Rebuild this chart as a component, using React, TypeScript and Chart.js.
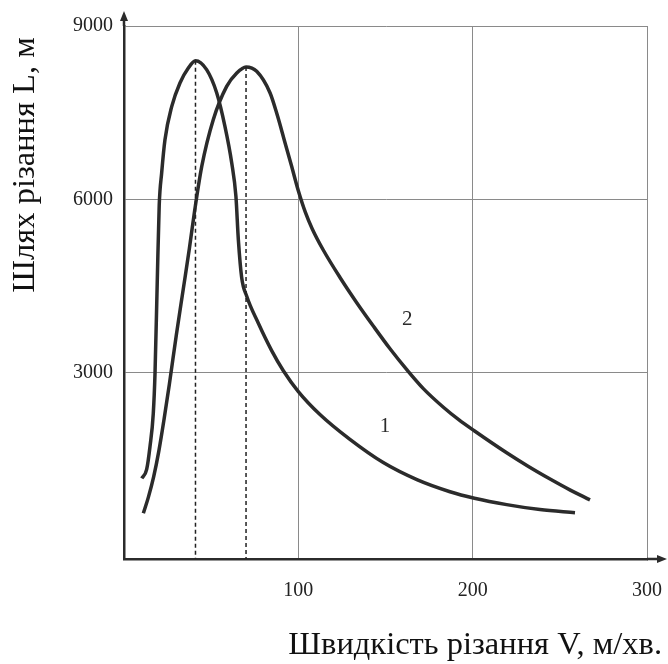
import React, { useEffect, useRef } from "react";
import { Chart, registerables } from "chart.js";

Chart.register(...registerables);

// Curve 1
const curve1X = [10.2, 13, 14.9, 16.8, 17.8, 19.1, 20.2, 21.6, 23.5, 27.4, 32.1, 36.9, 41, 47.4, 53.2, 57.9, 61.8, 64.2, 65.6, 67.5, 70.4, 77, 84.7, 91.4, 100, 112.4, 129.6, 148.7, 168, 187, 201, 219.5, 238.6, 258.7];
const curve1Y = [1174, 1330, 1722, 2300, 3000, 4610, 5900, 6457, 7033, 7610, 8015, 8274, 8400, 8245, 7841, 7264, 6630, 6052, 5300, 4650, 4324, 3862, 3385, 3037, 2676, 2279, 1849, 1448, 1153, 944, 832, 721, 635, 579];
// Curve 2
const curve2X = [11.1, 14, 17, 20, 23, 26, 30, 34, 37.5, 40.5, 44.6, 51.2, 58.9, 64.7, 70, 76.1, 83.8, 88, 92, 96, 100, 104, 108, 114.3, 123.9, 133.5, 143, 152.6, 162.2, 171.7, 183.2, 192, 200.9, 219.5, 232, 244.4, 256, 267.3];
const curve2Y = [570, 850, 1200, 1650, 2200, 2800, 3650, 4450, 5150, 5800, 6571, 7380, 7956, 8188, 8292, 8216, 7841, 7450, 7020, 6590, 6150, 5780, 5490, 5125, 4650, 4214, 3810, 3416, 3055, 2727, 2405, 2190, 1998, 1617, 1380, 1163, 972, 802];

// Peaks (dashed verticals)
const peakX = [41, 70];
const peakY = [8400, 8292];

const xTicks = [100, 200, 300];
const yTicks = [3000, 6000, 9000];
const xMin = 0;
const xMax = 300;
const yMin = -220;
const yMax = 9000;

const curveLabels = ["1", "2"];
const labelX = [149.7, 162.5];
const labelY = [2070, 3929];

const xTitle = "Швидкість різання V, м/хв.";
const yTitle = "Шлях різання L, м";

const FONT = '"Liberation Serif", "Times New Roman", serif';
const INK = "#2b2b2b";

const toPts = (xs: number[], ys: number[]) => xs.map((x, i) => ({ x, y: ys[i] }));

const annotPlugin = {
  id: "annot",
  afterDraw(chart: any) {
    const ctx = chart.ctx;
    const { left, top, right, bottom } = chart.chartArea;
    const xs = chart.scales.x;
    const ys = chart.scales.y;
    ctx.save();
    // axis extensions + arrows
    ctx.strokeStyle = INK;
    ctx.fillStyle = INK;
    ctx.lineWidth = 2.5;
    ctx.beginPath();
    ctx.moveTo(left, top);
    ctx.lineTo(left, top - 8);
    ctx.moveTo(right, bottom);
    ctx.lineTo(right + 12, bottom);
    ctx.stroke();
    ctx.beginPath();
    ctx.moveTo(left, top - 15);
    ctx.lineTo(left - 4, top - 5);
    ctx.lineTo(left + 4, top - 5);
    ctx.closePath();
    ctx.fill();
    ctx.beginPath();
    ctx.moveTo(right + 20, bottom);
    ctx.lineTo(right + 10, bottom - 4);
    ctx.lineTo(right + 10, bottom + 4);
    ctx.closePath();
    ctx.fill();

    // curve labels
    ctx.font = `21px ${FONT}`;
    ctx.textAlign = "center";
    ctx.textBaseline = "middle";
    curveLabels.forEach((t, i) => {
      ctx.fillText(t, xs.getPixelForValue(labelX[i]), ys.getPixelForValue(labelY[i]));
    });

    // axis titles
    ctx.fillStyle = "#111";
    ctx.font = `32.5px ${FONT}`;
    ctx.textAlign = "right";
    ctx.textBaseline = "middle";
    ctx.fillText(xTitle, right + 15, bottom + 86);

    ctx.translate(left - 99, top + 139);
    ctx.rotate(-Math.PI / 2);
    ctx.textAlign = "center";
    ctx.textBaseline = "middle";
    ctx.fillText(yTitle, 0, 0);
    ctx.restore();
  },
};

export default function App() {
  const ref = useRef<HTMLCanvasElement | null>(null);

  useEffect(() => {
    if (!ref.current) return;
    const dashed = peakX.map((px, i) => ({
      data: [
        { x: px, y: peakY[i] },
        { x: px, y: yMin },
      ],
      borderColor: "#222",
      borderWidth: 1.5,
      borderDash: [4, 3],
      pointRadius: 0,
      tension: 0,
    }));
    const chart = new Chart(ref.current, {
      type: "line",
      data: {
        datasets: [
          ...dashed,
          {
            data: toPts(curve1X, curve1Y),
            borderColor: INK,
            borderWidth: 3.5,
            pointRadius: 0,
            cubicInterpolationMode: "monotone",
          },
          {
            data: toPts(curve2X, curve2Y),
            borderColor: INK,
            borderWidth: 3.5,
            pointRadius: 0,
            cubicInterpolationMode: "monotone",
          },
        ] as any,
      },
      options: {
        animation: false,
        responsive: false,
        parsing: false as any,
        layout: { padding: { top: 26, right: 21, left: 0, bottom: 0 } },
        plugins: { legend: { display: false }, tooltip: { enabled: false } },
        scales: {
          x: {
            type: "linear",
            min: xMin,
            max: xMax,
            afterBuildTicks: (s: any) => {
              s.ticks = xTicks.map((v) => ({ value: v }));
            },
            afterFit: (s: any) => {
              s.height = 105;
              s.paddingLeft = 0;
              s.paddingRight = 0;
            },
            grid: { color: "#8a8a8a", lineWidth: 1, drawTicks: false },
            border: { color: INK, width: 2.5 },
            ticks: {
              padding: 20,
              color: "#222",
              font: { family: FONT, size: 20 },
              maxRotation: 0,
              callback: (v: any) => String(v),
            },
          },
          y: {
            type: "linear",
            min: yMin,
            max: yMax,
            afterBuildTicks: (s: any) => {
              s.ticks = yTicks.map((v) => ({ value: v }));
            },
            afterFit: (s: any) => {
              s.width = 124;
              s.paddingTop = 0;
              s.paddingBottom = 0;
            },
            grid: { color: "#8a8a8a", lineWidth: 1, drawTicks: false },
            border: { color: INK, width: 2.5 },
            ticks: {
              padding: 11,
              color: "#222",
              font: { family: FONT, size: 20 },
              callback: (v: any) => String(v),
            },
          },
        },
      },
      plugins: [annotPlugin],
    });
    return () => chart.destroy();
  }, []);

  return (
    <div style={{ position: "fixed", left: 0, top: 0, width: 668, height: 664, background: "#fff" }}>
      <canvas ref={ref} width={668} height={664} style={{ width: 668, height: 664, display: "block" }} />
    </div>
  );
}
